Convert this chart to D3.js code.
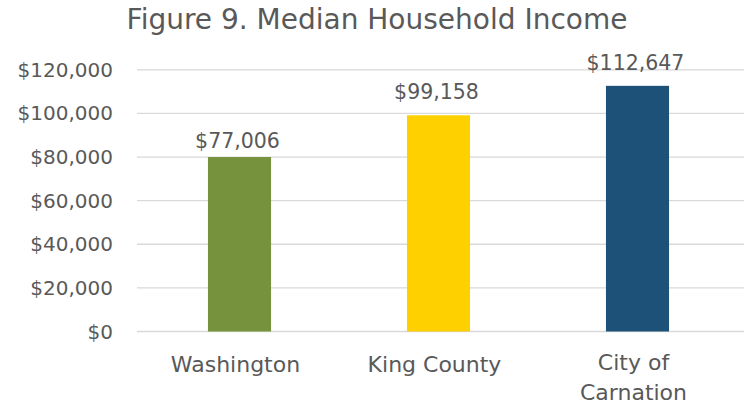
<!DOCTYPE html>
<html lang="en">
<head>
<meta charset="UTF-8">
<title>Median Household Income</title>
<script src="https://d3js.org/d3.v7.min.js"></script>
<style>
  body { margin: 0; background: #fff; }
  text { font-family: "DejaVu Sans", sans-serif; fill: #595959; }
</style>
</head>
<body>
<script>
// data
var categories = ["Washington", "King County", "City of Carnation"];
var incomes = [77006, 99158, 112647];          // printed values
var barHeights = [80000, 99158, 112647];       // bar tops as drawn
var colors = ["#76923C", "#FFD000", "#1D5177"];
var yTicks = [0, 20000, 40000, 60000, 80000, 100000, 120000];

var width = 744, height = 406;
var plotLeft = 140, plotRight = 737, plotTop = 69.8, plotBottom = 331.5;

var svg = d3.select("body").append("svg")
    .attr("width", width)
    .attr("height", height);

var x = d3.scaleBand()
    .domain(categories)
    .range([plotLeft, plotRight])
    .paddingInner(0.683)
    .paddingOuter(0.3415);

var y = d3.scaleLinear()
    .domain([0, 120000])
    .range([plotBottom, plotTop]);

var fmt = d3.format("$,");

// gridlines
svg.append("g").selectAll("line")
    .data(yTicks)
    .join("line")
    .attr("x1", plotLeft - 3)
    .attr("x2", plotRight + 7)
    .attr("y1", d => y(d))
    .attr("y2", d => y(d))
    .attr("stroke", "#D9D9D9")
    .attr("stroke-width", 1.3);

// y labels
svg.append("g").selectAll("text")
    .data(yTicks)
    .join("text")
    .attr("x", 113)
    .attr("y", d => y(d))
    .attr("dy", "0.35em")
    .attr("text-anchor", "end")
    .style("font-size", "20px")
    .text(d => fmt(d));

// bars
svg.append("g").selectAll("rect")
    .data(categories)
    .join("rect")
    .attr("x", d => x(d))
    .attr("width", x.bandwidth())
    .attr("y", (d, i) => y(barHeights[i]))
    .attr("height", (d, i) => plotBottom - y(barHeights[i]))
    .attr("fill", (d, i) => colors[i]);

// value labels
svg.append("g").selectAll("text")
    .data(categories)
    .join("text")
    .attr("x", d => x(d) + x.bandwidth() / 2 - 2)
    .attr("y", (d, i) => y(incomes[i]) - 16)
    .attr("text-anchor", "middle")
    .style("font-size", "20.5px")
    .text((d, i) => fmt(incomes[i]));

// category labels (wrap the long one)
var catLines = { "City of Carnation": ["City of", "Carnation"] };
svg.append("g").selectAll("text")
    .data(categories)
    .join("text")
    .attr("x", d => x(d) + x.bandwidth() / 2 - 4)
    .attr("y", d => catLines[d] ? 370 : 372)
    .attr("text-anchor", "middle")
    .style("font-size", "22px")
    .each(function(d) {
        var lines = catLines[d] || [d];
        d3.select(this).selectAll("tspan")
            .data(lines)
            .join("tspan")
            .attr("x", x(d) + x.bandwidth() / 2 - 4)
            .attr("dy", (l, i) => i ? 30 : 0)
            .text(l => l);
    });

// title
svg.append("text")
    .attr("x", 377)
    .attr("y", 29)
    .attr("text-anchor", "middle")
    .style("font-size", "28px")
    .text("Figure 9. Median Household Income");
</script>
</body>
</html>
